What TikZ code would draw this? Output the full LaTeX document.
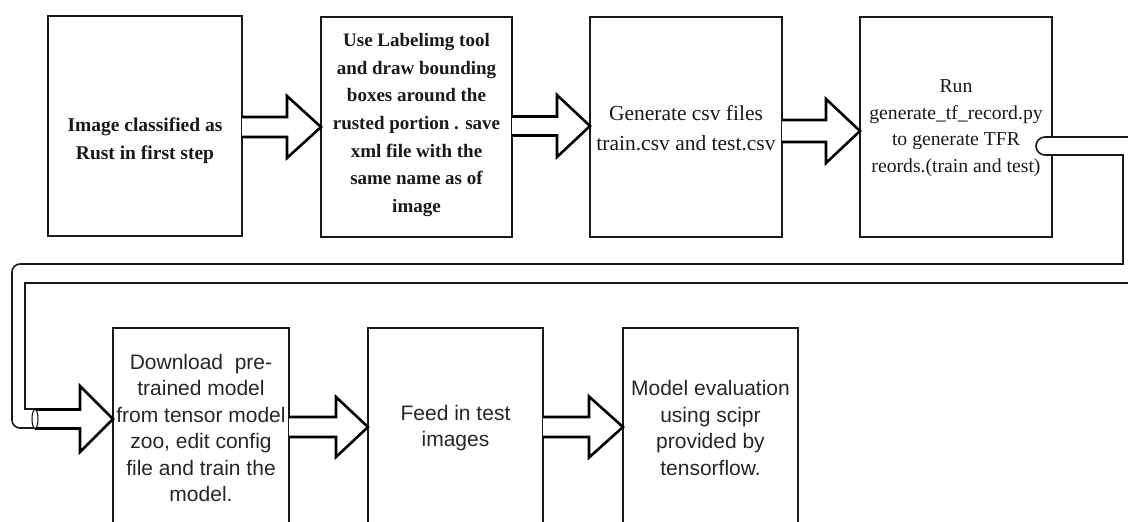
\documentclass[tikz,border=0pt]{standalone}
\usepackage{fontspec}
\setmainfont{Liberation Serif}
\newfontfamily\sansf{Liberation Sans}
\usetikzlibrary{calc}
\tikzset{
  box/.style={draw=black!90, line width=2.6pt, anchor=north west, inner sep=0pt, outer sep=0pt},
  seriftext/.style={align=center, font=\fontsize{20}{27}\selectfont, text=black!90},
  sanstext/.style={align=center, font=\sansf\fontsize{21}{26.5}\selectfont, text=black!85},
  blk/.style={draw=black, line width=2.6pt, fill=white, line join=miter},
  pipe/.style={draw=black!90, line width=1.6pt, fill=white},
}
% #1 start point (anchor), #2 target node, #3 tip y, #4 shaft half, #5 head half, #6 head length
\newcommand\blockarrow[6]{%
  \draw[blk] (#1 |- 0,#3-#4) -- ($(#2.west |- 0,#3-#4)+(-#6,0)$) -- ($(#2.west |- 0,#3-#5)+(-#6,0)$)
    -- (#2.west |- 0,#3) -- ($(#2.west |- 0,#3+#5)+(-#6,0)$) -- ($(#2.west |- 0,#3+#4)+(-#6,0)$)
    -- (#1 |- 0,#3+#4);}
\begin{document}
\begin{tikzpicture}[x=1pt,y=-1pt]
\useasboundingbox (0,0) rectangle (1128,522);
\clip (0,0) rectangle (1128,522);
% top row boxes
\node[box, minimum width=194pt, minimum height=220pt] (b1) at (48,16) {};
\node[box, minimum width=191pt, minimum height=220pt] (b2) at (321,17) {};
\node[box, minimum width=192pt, minimum height=220pt] (b3) at (590,17) {};
\node[box, minimum width=192pt, minimum height=220pt] (b4) at (860,17) {};
% bottom row boxes (run past the lower edge)
\node[box, minimum width=176pt, minimum height=220pt] (b5) at (113,328) {};
\node[box, minimum width=175pt, minimum height=220pt] (b6) at (368,328) {};
\node[box, minimum width=175pt, minimum height=220pt] (b7) at (623,328) {};
% texts
\node[seriftext, font=\bfseries\fontsize{19.5}{28}\selectfont] (t1) at (145,141) {Image classified as\\Rust in first step};
\node[seriftext, font=\bfseries\fontsize{19}{27.6}\selectfont] (t2) at (416.5,125) {Use Labelimg tool\\and draw bounding\\boxes around the\\rusted portion . save\\xml file with the\\same name as of\\image};
\node[seriftext, font=\fontsize{21.5}{30}\selectfont] (t3) at (686,128) {Generate csv files\\train.csv and test.csv};
\node[seriftext, font=\fontsize{19.7}{26.7}\selectfont] (t4) at (956,128) {Run\\generate\_tf\_record.py\\to generate TFR\\reords.(train and test)};
\node[sanstext] (t5) at (201,428) {Download\ \ pre-\\trained model\\from tensor model\\zoo, edit config\\file and train the\\model.};
\node[sanstext] (t6) at (455.5,428) {Feed in test\\images};
\node[sanstext] (t7) at (710.5,428) {Model evaluation\\using scipr\\provided by\\tensorflow.};
% block arrows, top row
\blockarrow{b1.east}{b2}{127}{10}{31}{34}
\blockarrow{b2.east}{b3}{126}{9.5}{31}{33}
\blockarrow{b3.east}{b4}{131}{11}{32}{34}
% pipe from b4 round to the second row
\draw[pipe] (1045,137) -- (1140,137) -- (1140,283) -- (25,283) -- (25,409) -- (40,409) -- (40,428)
  -- (20,428) arc[start angle=90, end angle=180, radius=8] -- (12,272)
  arc[start angle=180, end angle=270, radius=8] -- (1123,264) -- (1123,155) -- (1045,155)
  arc[start angle=90, end angle=270, radius=9] -- cycle;
\coordinate (pend) at (35,419);
\blockarrow{pend}{b5}{419}{9.5}{33}{33}
\draw[black, line width=1pt, fill=white] (pend) ellipse [x radius=3, y radius=9.5];
% block arrows, bottom row
\blockarrow{b5.east}{b6}{427}{10}{30}{32}
\blockarrow{b6.east}{b7}{427}{10}{30.5}{34}
\end{tikzpicture}
\end{document}
